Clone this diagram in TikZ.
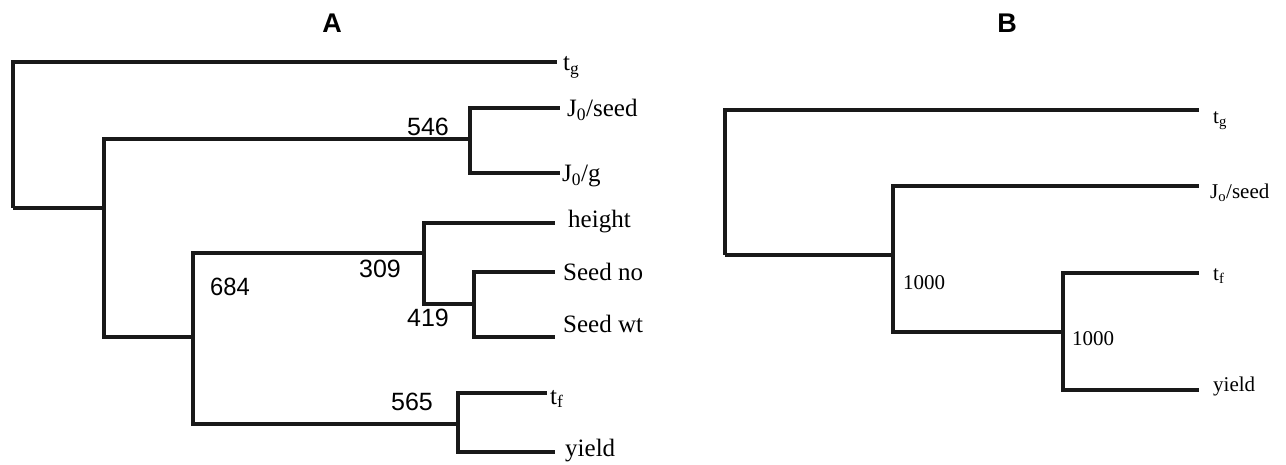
\documentclass[tikz,border=0pt]{standalone}
\usepackage{fontspec}
\setmainfont{Liberation Serif}
\newfontfamily\arialf{Liberation Sans}
\begin{document}
\begin{tikzpicture}[x=1pt,y=-1pt,
  treeA/.style={line width=3.2pt,black!90},
  treeB/.style={line width=3.8pt,black!90},
  leafA/.style={anchor=west,inner sep=0pt,font=\fontsize{25}{28}\selectfont},
  leafB/.style={anchor=west,inner sep=0pt,font=\fontsize{21}{24}\selectfont},
  bootA/.style={inner sep=0pt,font=\arialf\fontsize{25}{28}\selectfont},
  bootB/.style={inner sep=0pt,font=\fontsize{21}{24}\selectfont},
  title/.style={inner sep=0pt,font=\arialf\bfseries\fontsize{27}{30}\selectfont}]
\useasboundingbox (0,0) rectangle (1286,465);
% titles
\node[title] (tA) at (332,23) {A};
\node[title] (tB) at (1007,23) {B};
% ---------- Panel A ----------
\coordinate (R) at (13,208);
\coordinate (N1) at (104,208);
\coordinate (N546) at (470,139);
\coordinate (N684) at (193,337);
\coordinate (N309) at (424,253);
\coordinate (N419) at (474,304);
\coordinate (N565) at (458,424);
\coordinate (Ltg) at (557,62);
\coordinate (LJs) at (560,108);
\coordinate (LJg) at (560,173);
\coordinate (Lh) at (555,223);
\coordinate (Lsn) at (555,272);
\coordinate (Lsw) at (555,337);
\coordinate (Ltf) at (547,393);
\coordinate (Ly) at (555,452);
\draw[treeA] (R) |- (Ltg);
\draw[treeA] (R) -- (N1);
\draw[treeA] (N1) |- (N546);
\draw[treeA] (N1) |- (N684);
\draw[treeA] (N546) |- (LJs);
\draw[treeA] (N546) |- (LJg);
\draw[treeA] (N684) |- (N309);
\draw[treeA] (N684) |- (N565);
\draw[treeA] (N309) |- (Lh);
\draw[treeA] (N309) |- (N419);
\draw[treeA] (N419) |- (Lsn);
\draw[treeA] (N419) |- (Lsw);
\draw[treeA] (N565) |- (Ltf);
\draw[treeA] (N565) |- (Ly);
\node[leafA] (tg) at (563,67) {t\textsubscript{g}};
\node[leafA] (js) at (567,110) {J\textsubscript{0}/seed};
\node[leafA] (jg) at (562,176) {J\textsubscript{0}/g};
\node[leafA] (ht) at (568,222) {height};
\node[leafA] (sn) at (563,272) {Seed no};
\node[leafA] (sw) at (563,324) {Seed wt};
\node[leafA] (tf) at (550,399) {t\textsubscript{f}};
\node[leafA] (yd) at (565,451) {yield};
\node[bootA] (b546) at (428,127) {546};
\node[bootA,xscale=0.95] (b684) at (230,287) {684};
\node[bootA] (b309) at (380,269) {309};
\node[bootA] (b419) at (428,318) {419};
\node[bootA] (b565) at (412,402) {565};
% ---------- Panel B ----------
\coordinate (R2) at (725,255);
\coordinate (M1) at (893,255);
\coordinate (M2) at (1063,332);
\coordinate (Btg) at (1199,110);
\coordinate (Bjs) at (1199,186);
\coordinate (Btf) at (1199,273);
\coordinate (By) at (1199,390);
\draw[treeB] (R2) |- (Btg);
\draw[treeB] (R2) -- (M1);
\draw[treeB] (M1) |- (Bjs);
\draw[treeB] (M1) |- (M2);
\draw[treeB] (M2) |- (Btf);
\draw[treeB] (M2) |- (By);
\node[leafB] (btg) at (1213,121) {t\textsubscript{g}};
\node[leafB] (bjs) at (1210,193) {J\textsubscript{o}/seed};
\node[leafB] (btf) at (1213,276) {t\textsubscript{f}};
\node[leafB] (byd) at (1213,386) {yield};
\node[bootB] (c1) at (924,283) {1000};
\node[bootB] (c2) at (1093,339) {1000};
\end{tikzpicture}
\end{document}
